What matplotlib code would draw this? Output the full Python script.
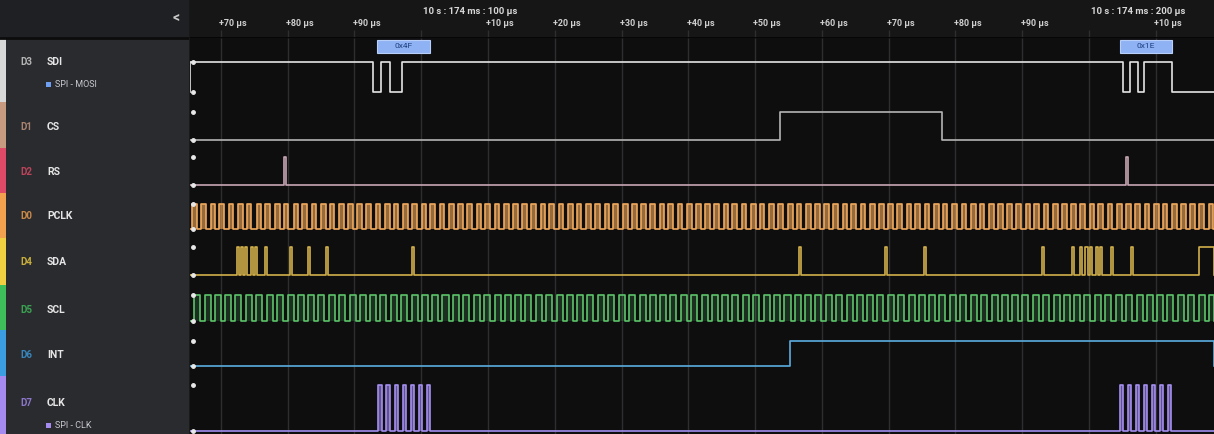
import numpy as np
import matplotlib.pyplot as plt
from matplotlib.patches import Rectangle

# ========== DATA (times in µs, relative to 10 s : 174 ms : 100 µs) ==========

t_start, t_end = -34.6, 118.7

grid_t = [-30, -20, -10, 0, 10, 20, 30, 40, 50, 60, 70, 80, 90, 100, 110]
grid_labels = ["+70 µs", "+80 µs", "+90 µs", "", "+10 µs", "+20 µs", "+30 µs", "+40 µs",
               "+50 µs", "+60 µs", "+70 µs", "+80 µs", "+90 µs", "", "+10 µs"]
major_t = [0, 100]
major_labels = ["10 s : 174 ms : 100 µs", "10 s : 174 ms : 200 µs"]

channel_codes = ["D3", "D1", "D2", "D0", "D4", "D5", "D6", "D7"]
channel_names = ["SDI", "CS", "RS", "PCLK", "SDA", "SCL", "INT", "CLK"]
sub_labels = {0: "SPI - MOSI", 7: "SPI - CLK"}

# high intervals (start, end) per channel
sdi_high = [(-35.0, -7.2), (-6.0, -4.6), (-2.8, 105.1), (106.1, 107.3), (108.2, 112.4)]
cs_high = [(53.7, 78.0)]
rs_high = [(-20.5, -20.2), (105.6, 105.9)]
pclk_starts = [-34.3, -32.9, -31.5, -30.2, -28.8, -27.4, -26.1, -24.6, -23.3, -21.9, -20.6,
               -19.1, -17.8, -16.4, -15.0, -13.7, -12.3, -10.9, -9.6, -8.2, -6.8, -5.4, -4.1,
               -2.7, -1.3, 0.1, 1.4, 2.8, 4.2, 5.5, 6.9, 8.3, 9.6, 11.0, 12.4, 13.8, 15.1,
               16.5, 17.9, 19.2, 20.6, 22.0, 23.3, 24.7, 26.1, 27.5, 28.8, 30.2, 31.6, 32.9,
               34.3, 35.7, 37.0, 38.4, 39.8, 41.2, 42.5, 43.9, 45.3, 46.6, 48.0, 49.4, 50.7,
               52.1, 53.5, 54.9, 56.2, 57.6, 59.0, 60.3, 61.7, 63.1, 64.4, 65.8, 67.2, 68.6,
               69.9, 71.3, 72.7, 74.0, 75.4, 76.8, 78.1, 79.5, 80.9, 82.3, 83.6, 85.0, 86.4,
               87.7, 89.1, 90.5, 91.8, 93.2, 94.6, 96.0, 97.3, 98.7, 100.1, 101.4, 102.8,
               104.2, 105.5, 106.9, 108.3, 109.7, 111.0, 112.4, 113.8, 115.1, 116.5, 117.9]
pclk_width = 0.7
sda_high = [(-27.6, -27.3), (-27.0, -26.7), (-26.4, -26.1), (-25.5, -25.2), (-24.9, -24.6),
            (-23.3, -23.0), (-19.7, -19.4), (-17.0, -16.7), (-14.2, -13.9), (-1.3, -1.0),
            (56.6, 56.9), (69.4, 69.7), (75.3, 75.6), (93.0, 93.3), (97.5, 97.8),
            (98.6, 99.0), (99.4, 99.8), (100.2, 100.5), (101.0, 101.3), (101.7, 102.0),
            (103.3, 103.6), (106.3, 106.6), (116.5, 119.0)]
scl_starts = [-34.0, -32.4, -30.9, -29.3, -27.8, -26.2, -24.7, -23.1, -21.6, -20.0, -18.5,
              -16.9, -15.4, -13.8, -12.3, -10.7, -9.2, -7.6, -6.1, -4.5, -3.0, -1.4, 0.1,
              1.7, 3.2, 4.8, 6.3, 7.9, 9.4, 11.0, 12.5, 14.1, 15.6, 17.2, 18.7, 20.3, 21.8,
              23.4, 24.9, 26.5, 28.0, 29.6, 31.1, 32.7, 34.2, 35.8, 37.3, 38.9, 40.4, 42.0,
              43.5, 45.1, 46.6, 48.2, 49.7, 51.3, 52.8, 54.4, 55.9, 57.5, 59.0, 60.6, 62.1,
              63.7, 65.2, 66.8, 68.3, 69.9, 71.4, 73.0, 74.5, 76.1, 77.6, 79.2, 80.7, 82.3,
              83.8, 85.4, 86.9, 88.5, 90.0, 91.6, 93.1, 94.7, 96.2, 97.8, 99.3, 100.9,
              102.4, 104.0, 105.5, 107.1, 108.6, 110.2, 111.7, 113.3, 114.8, 116.4, 117.9]
scl_width = 0.9
int_high = [(55.2, 119.0)]
clk_starts = [-6.4, -5.2, -3.9, -2.7, -1.5, -0.3, 0.9, 104.6, 105.8, 107.0, 108.2, 109.4, 110.6, 111.8]
clk_width = 0.5

spi_frames = [(-6.6, 1.4, "0x4F"), (104.6, 112.4, "0x1E")]

# ========== LAYOUT / STYLE ==========

W, H = 1214, 434
LEFT, TOP = 190, 38
row_levels = [(62, 92), (112, 140), (157, 185), (204, 229), (247, 275), (295, 321), (341, 366), (385, 431)]
row_bounds = [38, 102, 148, 193, 238, 285, 330, 376, 434]
label_y = [62, 127, 172, 216, 262, 310, 355, 403]
line_colors = ["#e4e4e4", "#b4b4b4", "#c8a6b4", "#f0a95c", "#d2b04a", "#5cc46a", "#5aaee0", "#a48ef0"]
strip_colors = ["#d8d8d8", "#c89a80", "#e04a66", "#f2a24e", "#f0d040", "#3fbf5a", "#3b9ee0", "#a58af0"]
fill_alpha = [0, 0, 0, 0.6, 0, 0.18, 0, 0.55]

highs = [sdi_high, cs_high, rs_high,
         [(s, s + pclk_width) for s in pclk_starts],
         sda_high,
         [(s, s + scl_width) for s in scl_starts],
         int_high,
         [(s, s + clk_width) for s in clk_starts]]


def trace(intervals):
    xs, ys = [t_start], [0.0]
    for a, b in intervals:
        a, b = max(a, t_start), min(b, t_end)
        xs += [a, a, b, b]
        ys += [0, 1, 1, 0]
    xs.append(t_end)
    ys.append(0)
    return np.array(xs), np.array(ys, dtype=float)


plt.rcParams["font.family"] = ["Roboto", "DejaVu Sans"]
fig = plt.figure(figsize=(W / 100, H / 100), dpi=100)
fig.patch.set_facecolor("#111112")

# ---- waveform area ----
ax = fig.add_axes([LEFT / W, 0, (W - LEFT) / W, (H - TOP) / H])
ax.set_facecolor("#0e0e0f")
ax.set_xlim(t_start, t_end)
ax.set_ylim(H, TOP)
ax.set_xticks([])
ax.set_yticks([])
for s in ax.spines.values():
    s.set_visible(False)

ax.vlines(grid_t, TOP, H, color="#2e2e30", lw=1, zorder=0)

for i, iv in enumerate(highs):
    hi, lo = row_levels[i]
    xs, ys = trace(iv)
    y = lo + (hi - lo) * ys
    if fill_alpha[i] > 0:
        ax.fill_between(xs, lo, y, color=line_colors[i], alpha=fill_alpha[i], lw=0, zorder=1)
    ax.plot(xs, y, color=line_colors[i], lw=1.2, zorder=2)
    # level markers at left edge
    ax.plot([0.003, 0.003], [hi, lo], transform=ax.get_yaxis_transform(), ls="none",
            marker="o", ms=2.5, color="#e8e8e8", zorder=3)

for a, b, txt in spi_frames:
    ax.add_patch(Rectangle((a, 40), b - a, 13, facecolor="#8fb2f4", edgecolor="#b8cffa", lw=0.8, zorder=4))
    ax.text((a + b) / 2, 46.5, txt, ha="center", va="center", fontsize=6, color="#1f3f80", zorder=5)

# ---- time header ----
hx = fig.add_axes([LEFT / W, (H - TOP) / H, (W - LEFT) / W, TOP / H])
hx.set_facecolor("#161617")
hx.set_xlim(t_start, t_end)
hx.set_ylim(TOP, 0)
hx.set_xticks([])
hx.set_yticks([])
for s in hx.spines.values():
    s.set_visible(False)
hx.vlines(grid_t, 30, TOP, color="#2e2e30", lw=1)
for t, lab in zip(grid_t, grid_labels):
    if lab:
        hx.text(t + 1.8, 24, lab, ha="center", va="center", fontsize=6.5, color="#cfcfcf", fontweight="bold")
for t, lab in zip(major_t, major_labels):
    hx.text(t + 0.3, 12, lab, ha="left", va="center", fontsize=6.8, color="#d8d8d8", fontweight="bold")
hx.axhline(TOP - 0.5, color="#050505", lw=2)

# ---- channel panel ----
lx = fig.add_axes([0, 0, LEFT / W, 1])
lx.set_facecolor("#2a2b2f")
lx.set_xlim(0, LEFT)
lx.set_ylim(H, 0)
lx.set_xticks([])
lx.set_yticks([])
for s in lx.spines.values():
    s.set_visible(False)
lx.add_patch(Rectangle((0, 0), LEFT, TOP, facecolor="#1f2023", lw=0))
lx.axhline(TOP, color="#0c0c0d", lw=2)
lx.axvline(LEFT - 0.5, color="#18181a", lw=2)
lx.text(176, 18, "<", ha="center", va="center", fontsize=10, color="#c8c8c8", fontweight="bold")

for i in range(len(channel_names)):
    top, bot = row_bounds[i], row_bounds[i + 1]
    lx.add_patch(Rectangle((0, top), 6, bot - top, facecolor=strip_colors[i], lw=0))
    lx.text(20, label_y[i], channel_codes[i], ha="left", va="center", fontsize=7,
            color=strip_colors[i], fontweight="bold", alpha=0.8)
    lx.text(47, label_y[i], channel_names[i], ha="left", va="center", fontsize=7.5,
            color="#e6e6e6", fontweight="bold")
    if i in sub_labels:
        sq = "#6e9ff0" if i == 0 else "#a58af0"
        lx.add_patch(Rectangle((46, label_y[i] + 20), 5, 5, facecolor=sq, lw=0))
        lx.text(55, label_y[i] + 22.5, sub_labels[i], ha="left", va="center", fontsize=6.5,
                color="#c8c8d0")

fig.savefig("out.png", dpi=100, facecolor=fig.get_facecolor())
